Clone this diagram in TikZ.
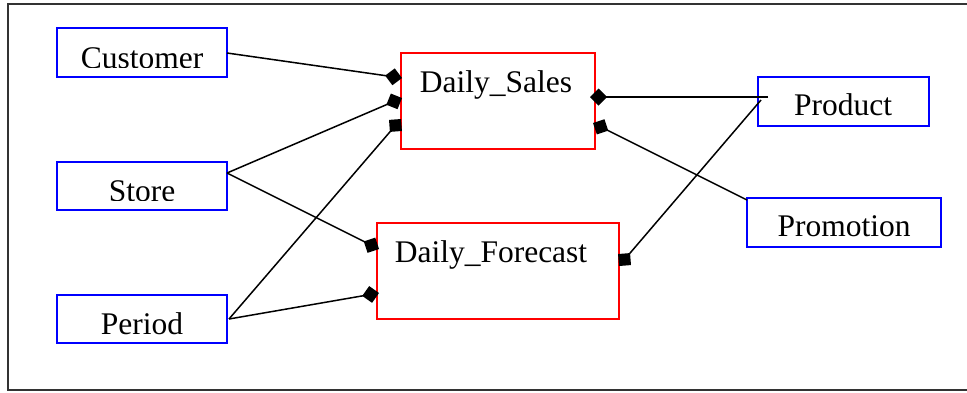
\documentclass[tikz,border=0pt]{standalone}
\usepackage{fontspec}
\setmainfont{Liberation Serif}
\usetikzlibrary{arrows.meta}

\tikzset{
  dimbox/.style={draw=blue, line width=1.6pt, rectangle, inner sep=0pt},
  factbox/.style={draw=red, line width=1.6pt, rectangle, inner sep=0pt},
  lbl/.style={anchor=base, inner sep=0pt, font=\fontsize{31.5}{31.5}\selectfont},
  rel/.style={draw=black, line width=1.5pt, -{Diamond[length=17pt,width=17pt]}},
}

\begin{document}
\begin{tikzpicture}[x=1pt,y=-1pt]
\useasboundingbox (0,0) rectangle (967,392);

% outer frame
\draw[black!80, line width=1.8pt] (8,4) rectangle (970,390);

% dimension tables
\node[dimbox, minimum width=170pt, minimum height=49pt] (cust) at (142,52.5) {};
\node[dimbox, minimum width=170pt, minimum height=48pt] (store) at (142,186) {};
\node[dimbox, minimum width=170pt, minimum height=48pt] (period) at (142,319) {};
\node[dimbox, minimum width=171pt, minimum height=49pt] (prod) at (843.5,101.5) {};
\node[dimbox, minimum width=194pt, minimum height=49pt] (promo) at (844,222.5) {};

% fact tables
\node[factbox, minimum width=194pt, minimum height=96pt] (sales) at (498,101) {};
\node[factbox, minimum width=242pt, minimum height=96pt] (fcast) at (498,271) {};

% labels
\begin{scope}
  \clip (57,28) rectangle (227,67);
  \node[lbl] (custT) at (142,68.5) {Customer};
\end{scope}
\begin{scope}
  \clip (57,162) rectangle (227,200);
  \node[lbl] (storeT) at (142,201.5) {Store};
\end{scope}
\node[lbl] (periodT) at (142,334) {Period};
\node[lbl] (prodT) at (843,115) {Product};
\node[lbl] (promoT) at (844,236) {Promotion};
\node[lbl] (salesT) at (496,92) {Daily\_Sales};
\node[lbl] (fcastT) at (491,262) {Daily\_Forecast};

% attachment points
\coordinate (custR) at (227,53);
\coordinate (storeR) at (227,173);
\coordinate (periodR) at (229,319);
\coordinate (prodL) at (768,97);
\coordinate (prodL2) at (761,100);
\coordinate (promoC) at (747,200);

\coordinate (sCust) at (402,78);
\coordinate (sStore) at (402,98);
\coordinate (sPeriod) at (401,119);
\coordinate (sProd) at (590,97);
\coordinate (sPromo) at (593,123);
\coordinate (fStore) at (379,249);
\coordinate (fPeriod) at (379,293);
\coordinate (fProd) at (619,266);

% relationships
\draw[rel] (custR) -- (sCust);
\draw[rel] (storeR) -- (sStore);
\draw[rel] (storeR) -- (fStore);
\draw[rel] (periodR) -- (sPeriod);
\draw[rel] (periodR) -- (fPeriod);
\draw[rel] (prodL) -- (sProd);
\draw[rel] (promoC) -- (sPromo);
\draw[rel] (prodL2) -- (fProd);
\end{tikzpicture}
\end{document}
